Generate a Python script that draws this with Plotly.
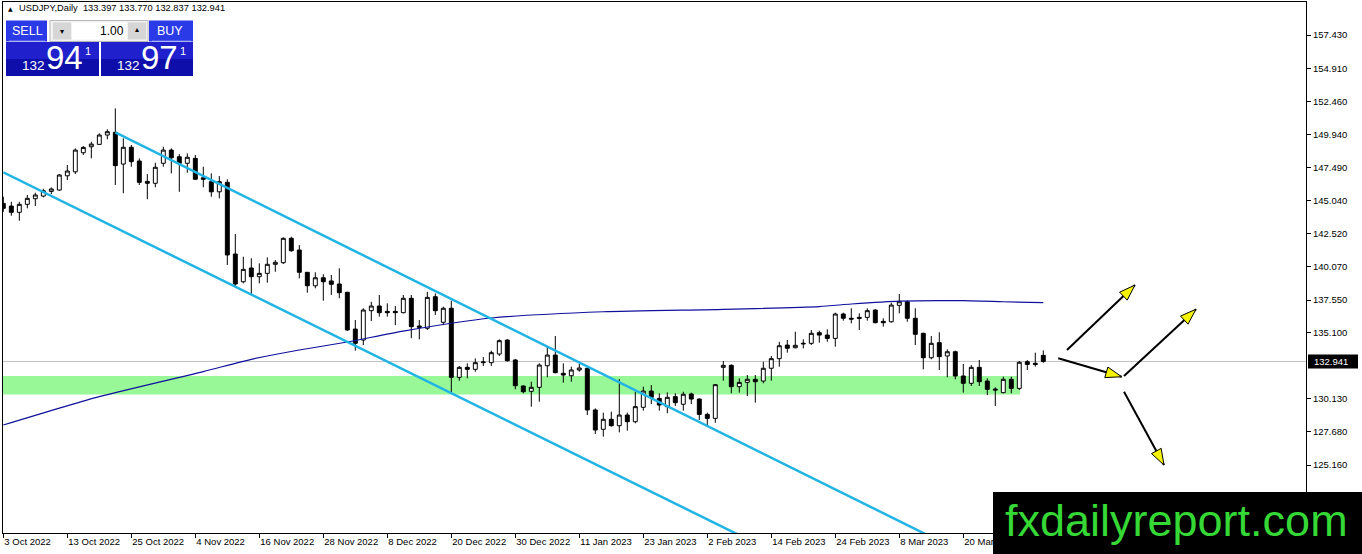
import math
import plotly.graph_objects as go

# USDJPY daily candles, 3 Oct 2022 .. 3 Apr 2023 (one bar per weekday)
opens = [144.80, 144.60, 144.13, 144.73, 145.15, 145.35, 145.70, 145.80, 146.87, 147.17,
         148.60, 149.05, 149.23, 149.93, 150.13, 147.75, 149.01, 147.98, 146.45, 146.31,
         147.81, 148.80, 148.30, 147.81, 148.18, 146.72, 146.43, 145.67, 146.38, 141.00,
         138.92, 139.95, 139.30, 139.55, 140.23, 140.35, 142.18, 141.30, 139.63, 138.62,
         139.22, 138.98, 138.75, 138.13, 135.37, 134.55, 136.75, 137.10, 136.70, 136.70,
         136.60, 137.68, 135.60, 135.43, 137.80, 135.88, 136.93, 131.75, 132.50, 132.35,
         132.85, 132.85, 133.50, 134.55, 133.05, 131.10, 130.70, 131.00, 132.62, 133.42,
         132.05, 131.87, 132.30, 132.42, 129.30, 127.85, 128.60, 128.12, 128.92, 128.42,
         129.50, 130.72, 130.17, 129.55, 130.30, 129.73, 130.50, 130.12, 128.97, 128.67,
         132.50, 132.65, 131.05, 131.37, 131.60, 131.47, 132.43, 133.15, 134.17, 133.97,
         134.25, 134.30, 135.10, 134.92, 134.67, 136.50, 136.18, 136.25, 136.25, 136.80,
         135.95, 135.92, 137.15, 137.42, 136.18, 135.05, 133.22, 134.35, 133.35, 133.67,
         131.85, 131.30, 132.50, 131.47, 130.87, 130.60, 131.60, 130.92, 132.92, 132.80,
         133.397]
highs = [145.30, 144.92, 144.92, 145.43, 145.60, 145.90, 146.00, 147.00, 147.68, 148.93,
         149.10, 149.42, 150.06, 150.36, 151.93, 149.68, 149.18, 148.18, 147.00, 147.85,
         149.05, 148.93, 148.50, 148.55, 148.43, 147.55, 147.05, 146.85, 146.61, 142.50,
         140.80, 140.68, 140.30, 140.75, 140.55, 142.25, 142.30, 141.67, 139.65, 139.63,
         139.48, 139.43, 139.93, 138.17, 136.05, 136.93, 137.42, 137.93, 137.30, 137.10,
         137.93, 137.93, 136.05, 138.17, 138.05, 137.05, 137.50, 132.60, 132.80, 133.17,
         133.27, 133.75, 134.60, 134.60, 133.13, 131.15, 131.42, 132.80, 134.05, 134.85,
         132.80, 132.55, 132.75, 132.60, 129.42, 129.10, 129.17, 131.62, 129.10, 130.67,
         131.05, 131.17, 130.55, 130.62, 130.55, 130.67, 130.60, 130.17, 129.10, 131.22,
         132.97, 132.72, 131.67, 131.92, 131.92, 132.92, 133.35, 134.42, 134.55, 135.17,
         134.60, 135.30, 135.25, 135.35, 136.60, 136.60, 136.93, 136.55, 136.93, 136.85,
         136.18, 137.35, 138.00, 137.50, 136.93, 135.10, 134.85, 135.13, 133.85, 133.75,
         132.75, 132.67, 133.05, 131.67, 131.00, 131.80, 131.80, 132.97, 133.05, 133.60,
         133.770]
lows = [144.17, 143.87, 143.50, 144.43, 144.60, 145.25, 145.50, 145.75, 146.55, 147.00,
        148.43, 148.18, 149.18, 149.61, 146.18, 145.56, 147.55, 146.18, 145.11, 146.01,
        147.55, 147.05, 145.67, 147.10, 146.55, 146.01, 145.30, 145.18, 140.18, 138.55,
        138.80, 138.00, 138.80, 138.85, 139.67, 140.25, 141.17, 139.18, 138.10, 138.43,
        137.50, 137.93, 137.68, 135.25, 133.75, 134.17, 135.97, 136.30, 136.30, 135.67,
        136.55, 134.68, 134.60, 135.30, 136.43, 135.67, 130.60, 131.50, 131.68, 132.17,
        132.60, 132.60, 133.35, 132.92, 130.85, 130.55, 129.55, 129.92, 131.75, 132.05,
        131.35, 131.42, 132.17, 128.92, 127.50, 127.30, 128.05, 127.62, 127.75, 128.30,
        129.25, 129.75, 129.25, 129.05, 129.60, 129.25, 129.75, 128.55, 128.12, 128.34,
        131.50, 130.55, 130.60, 130.35, 129.85, 131.30, 131.50, 132.55, 133.60, 133.92,
        133.92, 134.17, 134.35, 134.42, 134.05, 136.00, 135.80, 135.30, 136.00, 135.80,
        135.55, 135.85, 136.55, 135.92, 134.17, 132.35, 133.10, 132.30, 131.75, 131.60,
        130.60, 131.10, 131.10, 130.42, 129.60, 130.55, 130.55, 130.80, 132.30, 132.55,
        132.837]
closes = [144.43, 144.13, 144.73, 145.18, 145.43, 145.75, 145.88, 146.93, 147.23, 148.80,
          149.00, 149.25, 149.93, 150.18, 147.63, 149.01, 147.93, 146.38, 146.31, 147.51,
          148.80, 148.22, 147.81, 148.26, 146.61, 146.61, 145.67, 146.43, 140.93, 138.75,
          139.85, 139.30, 139.55, 140.23, 140.38, 142.18, 141.25, 139.63, 138.62, 139.22,
          138.92, 138.73, 138.10, 135.30, 134.30, 136.80, 137.10, 136.60, 136.60, 136.60,
          137.68, 135.55, 135.50, 137.75, 136.75, 136.93, 131.75, 132.50, 132.35, 132.85,
          132.90, 133.60, 134.50, 133.00, 131.12, 130.67, 131.00, 132.67, 133.42, 132.10,
          131.92, 132.30, 132.45, 129.30, 127.80, 128.60, 128.12, 128.92, 128.42, 129.55,
          130.72, 130.25, 129.67, 130.25, 129.85, 130.48, 130.12, 128.97, 128.67, 131.20,
          132.65, 131.05, 131.37, 131.60, 131.42, 132.43, 133.15, 134.12, 133.93, 134.15,
          134.30, 135.05, 134.92, 134.67, 136.50, 136.18, 136.12, 136.18, 136.75, 135.85,
          135.85, 137.17, 137.42, 136.18, 134.98, 133.22, 134.30, 133.30, 133.67, 131.85,
          131.30, 132.50, 131.42, 130.85, 130.80, 131.60, 130.92, 132.88, 132.72, 132.72,
          132.941]
bar_index = list(range(len(opens)))

date_ticks = [0, 8, 16, 24, 32, 40, 48, 56, 64, 72, 80, 88, 96, 104, 112, 120]
date_labels = ["3 Oct 2022", "13 Oct 2022", "25 Oct 2022", "4 Nov 2022", "16 Nov 2022",
               "28 Nov 2022", "8 Dec 2022", "20 Dec 2022", "30 Dec 2022", "11 Jan 2023",
               "23 Jan 2023", "2 Feb 2023", "14 Feb 2023", "24 Feb 2023", "8 Mar 2023",
               "20 Mar 2023"]
price_ticks = [125.16, 127.68, 130.13, 135.10, 137.55, 140.07, 142.52,
               145.04, 147.49, 149.94, 152.46, 154.91, 157.43]

# moving average (navy line)
ma_bars = [0, 12, 25, 31, 37, 43, 50, 61, 75, 90, 102, 106, 112, 120, 125, 130]
ma_values = [128.17, 130.30, 132.18, 133.10, 133.80, 134.40, 135.22, 136.20, 136.67,
             136.85, 137.06, 137.25, 137.47, 137.50, 137.42, 137.35]

# falling channel (two cyan rays)
upper_bars = [14, 120]
upper_values = [150.13, 118.58]
lower_bars = [0, 100]
lower_values = [147.13, 117.54]

zone_low = 130.47
zone_high = 131.85
zone_end_bar = 127.1
last_price = 132.941

# scenario arrows
arrow_x0 = [132.96, 131.87, 140.09, 140.09]
arrow_y0 = [133.80, 133.18, 131.85, 130.67]
arrow_x1 = [141.46, 139.80, 149.09, 145.09]
arrow_y1 = [138.67, 131.79, 136.86, 125.17]

W, H = 1362, 554
PL, PR, PT, PB = 3, 1306, 2, 533
x_range = [-0.04, 162.84]
y_range = [120.07, 159.91]
xs = (PR - PL) / (x_range[1] - x_range[0])
ys = (PB - PT) / (y_range[1] - y_range[0])


def px(x):
    return (x - PL) / (PR - PL)


def py(y):
    return (PB - y) / (PB - PT)


FONT = "Liberation Sans"

fig = go.Figure()

fig.add_trace(go.Candlestick(
    x=bar_index, open=opens, high=highs, low=lows, close=closes,
    increasing=dict(line=dict(color="black", width=1), fillcolor="white"),
    decreasing=dict(line=dict(color="black", width=1), fillcolor="black"),
    whiskerwidth=0, showlegend=False, hoverinfo="skip"))

fig.add_trace(go.Scatter(x=ma_bars, y=ma_values, mode="lines",
                         line=dict(color="#10109C", width=1.2, shape="spline", smoothing=0.6),
                         showlegend=False, hoverinfo="skip"))
for bx, bv in [(upper_bars, upper_values), (lower_bars, lower_values)]:
    fig.add_trace(go.Scatter(x=bx, y=bv, mode="lines",
                             line=dict(color="#22B4E4", width=2.5),
                             showlegend=False, hoverinfo="skip"))

# arrows: black shaft + yellow head
head_len, head_w = 16, 11
for x0, y0, x1, y1 in zip(arrow_x0, arrow_y0, arrow_x1, arrow_y1):
    fig.add_trace(go.Scatter(x=[x0, x1], y=[y0, y1], mode="lines",
                             line=dict(color="black", width=2),
                             showlegend=False, hoverinfo="skip"))
    dx, dy = (x1 - x0) * xs, (y1 - y0) * ys
    d = math.hypot(dx, dy)
    ux, uy = dx / d, dy / d
    nx, ny = -uy, ux
    bxp, byp = -head_len * ux, -head_len * uy
    pts = [(0, 0), (bxp + nx * head_w / 2, byp + ny * head_w / 2),
           (bxp - nx * head_w / 2, byp - ny * head_w / 2), (0, 0)]
    fig.add_trace(go.Scatter(x=[x1 + p[0] / xs for p in pts],
                             y=[y1 + p[1] / ys for p in pts],
                             mode="lines", fill="toself", fillcolor="#F4F400",
                             line=dict(color="black", width=1),
                             showlegend=False, hoverinfo="skip"))

shapes = [
    dict(type="rect", xref="paper", yref="y", x0=0, x1=px(PL + (zone_end_bar - x_range[0]) * xs),
         y0=zone_low, y1=zone_high, fillcolor="#98F898", line=dict(width=0), layer="below"),
    dict(type="line", xref="paper", yref="y", x0=0, x1=1, y0=last_price, y1=last_price,
         line=dict(color="#C0C0C0", width=1), layer="below"),
]

annotations = []


def box(x0, y0, x1, y1, color, line=None):
    shapes.append(dict(type="rect", xref="paper", yref="paper",
                       x0=px(x0), x1=px(x1), y0=py(y1), y1=py(y0),
                       fillcolor=color, line=line or dict(width=0), layer="above"))


def text(x, y, s, size, color="white", anchor="center", family=FONT):
    annotations.append(dict(xref="paper", yref="paper", x=px(x), y=py(y), text=s,
                            showarrow=False, xanchor=anchor, yanchor="middle",
                            font=dict(family=family, size=size, color=color)))


# one-click trading panel
box(6, 20.5, 47, 41.5, "#2A3AE6")
box(149, 20.5, 193, 41.5, "#2A3AE6")
box(9, 40.8, 45, 41.6, "#C8CCF8")
box(152, 40.8, 191, 41.6, "#C8CCF8")
box(50, 20.5, 148, 41.5, "#F2F2F2", dict(color="#B8B8B8", width=1))
box(53, 22.5, 71, 39.5, "#D6D6D6")
box(128, 22.5, 146, 39.5, "#D6D6D6")
box(72, 22.5, 127, 39.5, "white")
box(6, 42, 99, 59, "#2020CC")
box(6, 59, 99, 76, "#0E0EAA")
box(101, 42, 193, 59, "#2020CC")
box(101, 59, 193, 76, "#0E0EAA")
text(27, 31, "SELL", 12.5)
text(170, 31, "BUY", 12.5)
text(112, 31, "1.00", 12, color="black")
text(62, 31, "▾", 8, color="black", family="DejaVu Sans")
text(137, 30, "▴", 8, color="black", family="DejaVu Sans")
for cx, big in [(0, "94"), (95, "97")]:
    text(33 + cx, 65, "132", 13.5)
    text(64 + cx, 58, big, 33)
    text(88 + cx, 51, "1", 11)

text(6, 8, "▲", 6, color="black", anchor="left", family="DejaVu Sans")
text(17, 8, "USDJPY,Daily  133.397 133.770 132.837 132.941", 9.3, color="black", anchor="left")

# last price marker on the scale
lp_y = PB - (last_price - y_range[0]) * ys
box(1308, lp_y - 7, 1358, lp_y + 7, "black")
text(1312, lp_y, f"{last_price:.3f}", 9.5, anchor="left")

# watermark
box(993, 492, 1370, 560, "black")
text(1176, 520, "fxdailyreport.com", 45, color="#35D835")

fig.update_layout(
    width=W, height=H,
    margin=dict(l=PL, r=W - PR, t=PT, b=H - PB, pad=0),
    paper_bgcolor="white", plot_bgcolor="white",
    shapes=shapes, annotations=annotations,
    showlegend=False, hovermode=False,
    xaxis=dict(range=x_range, tickvals=date_ticks, ticktext=date_labels,
               ticklabelposition="outside right", ticks="outside", ticklen=4,
               tickcolor="black", showline=True, mirror=True, linecolor="black",
               linewidth=1, showgrid=False, zeroline=False, rangeslider=dict(visible=False),
               tickfont=dict(family=FONT, size=9.5, color="black"), fixedrange=True),
    yaxis=dict(range=y_range, side="right", tickvals=price_ticks,
               ticktext=[f"{v:.3f}" for v in price_ticks], ticks="outside", ticklen=4,
               tickcolor="black", showline=True, mirror=True, linecolor="black",
               linewidth=1, showgrid=False, zeroline=False,
               tickfont=dict(family=FONT, size=9.5, color="black"), fixedrange=True),
)

fig.write_html("out.html", config={"displayModeBar": False},
               post_script="document.body.style.margin='0';")
